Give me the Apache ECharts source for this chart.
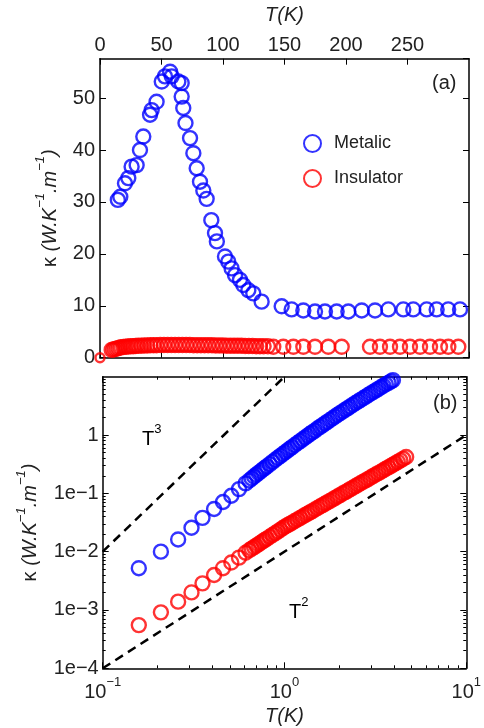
<!DOCTYPE html>
<html>
<head>
<meta charset="utf-8">
<script src="https://cdn.jsdelivr.net/npm/echarts@6/dist/echarts.min.js"></script>
<style>
html, body { margin: 0; padding: 0; background: #fff; }
#chart { width: 484px; height: 728px; }
</style>
</head>
<body>
<div id="chart"></div>
<script>
// (a) linear panel: kappa vs T
var metalT = [14.5, 16.5, 20.3, 23.0, 25.7, 29.8, 32.5, 35.2, 40.7, 42.0, 46.0, 50.2, 52.8, 57.0, 58.3,
  63.7, 66.4, 66.4, 67.7, 69.5, 73.2, 75.9, 78.6, 81.3, 84.0, 86.7, 90.5, 93.5, 95.0, 101.6, 104.3,
  107.0, 109.8, 113.8, 116.5, 120.6, 124.6, 131.4, 147.7, 155.8, 165.3, 174.8, 182.9, 192.4, 201.9,
  212.8, 223.6, 234.4, 246.6, 254.7, 265.6, 273.7, 283.1, 292.7];
var metalK = [30.4, 31.0, 33.6, 34.6, 36.8, 37.1, 40.0, 42.6, 46.8, 47.7, 49.3, 53.2, 54.2, 55.1, 54.2,
  53.2, 52.9, 50.3, 48.1, 45.2, 42.3, 39.4, 36.5, 33.9, 32.2, 30.6, 26.5, 24.0, 22.4, 19.5, 18.5,
  17.2, 15.9, 15.0, 14.0, 13.0, 12.4, 10.8, 9.9, 9.3, 9.1, 8.9, 8.9, 8.9, 8.9,
  9.1, 9.1, 9.3, 9.3, 9.3, 9.3, 9.3, 9.3, 9.3];
var insulT = [0, 9.5, 11, 12.5, 14, 15.5, 17, 19, 21, 23, 25, 27, 29, 31, 33.5, 36, 38.5, 41, 43.5, 46,
  49, 52, 55, 58, 61, 64, 67, 70, 73, 76, 79, 82, 85, 88, 91, 94, 97, 100, 103, 106, 109, 112, 115,
  118, 121, 124, 127, 130, 133, 136.5, 140.9, 149, 157.2, 165.3, 174.8, 185.6, 196.5, 219.5, 227.6,
  235.8, 243.9, 252, 260.2, 268.3, 276.4, 283.2, 291.3];
var insulK = [0, 1.5, 1.6, 1.7, 1.8, 1.9, 2.0, 2.05, 2.1, 2.15, 2.2, 2.2, 2.25, 2.3, 2.3, 2.35, 2.35, 2.4, 2.4, 2.4,
  2.45, 2.45, 2.45, 2.45, 2.45, 2.45, 2.45, 2.45, 2.45, 2.4, 2.4, 2.4, 2.4, 2.4, 2.4, 2.35, 2.35, 2.35, 2.3, 2.3, 2.3, 2.3, 2.3,
  2.25, 2.25, 2.25, 2.2, 2.2, 2.2, 2.2, 2.1, 2.1, 2.1, 2.1, 2.1, 2.1, 2.1, 2.1, 2.1,
  2.1, 2.1, 2.1, 2.1, 2.1, 2.1, 2.1, 2.1];

// (b) log-log panel, low temperature
var lowMetalT = [0.158, 0.209, 0.26, 0.308, 0.354, 0.41, 0.459, 0.51, 0.562, 0.611,
  0.64, 0.66, 0.68, 0.70, 0.72, 0.74, 0.76, 0.78, 0.80, 0.83, 0.86, 0.89, 0.92, 0.95, 0.98,
  1.01, 1.04, 1.07, 1.10, 1.14, 1.18, 1.22, 1.26, 1.30, 1.34, 1.38, 1.42, 1.47, 1.52, 1.57,
  1.62, 1.67, 1.72, 1.78, 1.84, 1.90, 1.96, 2.02, 2.09, 2.16, 2.23, 2.30, 2.38, 2.46, 2.54,
  2.62, 2.71, 2.80, 2.89, 2.98, 3.08, 3.18, 3.28, 3.39, 3.50, 3.61, 3.73, 3.85, 3.95];
var lowMetalK = [0.0052, 0.0100, 0.0162, 0.0257, 0.038, 0.054, 0.071, 0.091, 0.118, 0.148,
  0.166, 0.180, 0.194, 0.209, 0.224, 0.239, 0.256, 0.272, 0.290, 0.317, 0.346, 0.376, 0.407, 0.439, 0.472,
  0.507, 0.543, 0.581, 0.619, 0.673, 0.728, 0.785, 0.846, 0.907, 0.971, 1.04, 1.11, 1.19, 1.29, 1.38,
  1.48, 1.58, 1.68, 1.81, 1.94, 2.08, 2.22, 2.36, 2.53, 2.71, 2.89, 3.08, 3.30, 3.53, 3.76,
  4.00, 4.28, 4.56, 4.85, 5.14, 5.48, 5.82, 6.18, 6.58, 6.98, 7.40, 7.85, 8.32, 8.73];
var lowInsulT = [0.158, 0.209, 0.26, 0.308, 0.354, 0.41, 0.459, 0.51, 0.562, 0.611,
  0.64, 0.66, 0.68, 0.70, 0.72, 0.74, 0.76, 0.78, 0.80, 0.83, 0.86, 0.89, 0.92, 0.95, 0.98,
  1.01, 1.04, 1.07, 1.10, 1.14, 1.18, 1.22, 1.26, 1.30, 1.34, 1.38, 1.42, 1.47, 1.52, 1.57,
  1.62, 1.67, 1.72, 1.78, 1.84, 1.90, 1.96, 2.02, 2.09, 2.16, 2.23, 2.30, 2.38, 2.46, 2.54,
  2.62, 2.71, 2.80, 2.89, 2.98, 3.08, 3.18, 3.28, 3.39, 3.50, 3.61, 3.73, 3.85, 3.95,
  4.07, 4.20, 4.34, 4.50, 4.67];
var lowInsulK = [0.00055, 0.00091, 0.00139, 0.0020, 0.00286, 0.00398, 0.0052, 0.0065, 0.0079, 0.0096,
  0.01055, 0.01127, 0.01197, 0.0127, 0.01346, 0.01425, 0.01504, 0.01588, 0.0167, 0.018, 0.0194, 0.0208, 0.0223, 0.0238, 0.0254,
  0.027, 0.0284, 0.0299, 0.0314, 0.0335, 0.0356, 0.0378, 0.0401, 0.0424, 0.0448, 0.0471, 0.0496, 0.0527, 0.056, 0.0594,
  0.0628, 0.0664, 0.07, 0.0743, 0.0789, 0.0836, 0.0883, 0.0933, 0.0991, 0.105, 0.111, 0.118, 0.125, 0.133, 0.141,
  0.149, 0.158, 0.167, 0.177, 0.187, 0.199, 0.21, 0.222, 0.235, 0.249, 0.264, 0.279, 0.296, 0.31,
  0.327, 0.346, 0.367, 0.391, 0.42];

// guide lines T^3 and T^2
var t3T = [0.1, 1];
var t3K = [0.01, 10];
var t2T = [0.1, 10];
var t2K = [0.0001, 1];

// minor tick positions for the log axes
var minorSteps = [2, 3, 4, 5, 6, 7, 8, 9];
var xDecades = [0.1, 1];
var yDecades = [0.0001, 0.001, 0.01, 0.1, 1];

function minors(decades) {
  var out = [];
  decades.forEach(function (d) {
    minorSteps.forEach(function (m) { out.push(+(d * m).toPrecision(3)); });
  });
  return out;
}
function zip(a, b) {
  return a.map(function (v, i) { return [v, b[i]]; });
}

var FONT = 'Liberation Sans';
var TXT = '#222';
var BLUE = '#0000ff';
var RED = '#ff0000';

var axisLine = { show: true, onZero: false, lineStyle: { color: '#000', width: 1.5 } };
var majorTick = { show: true, inside: true, length: 6, lineStyle: { color: '#000', width: 1 } };
var minorTickStyle = { show: true, inside: true, length: 3, lineStyle: { color: '#000', width: 1 } };

var supRich = {
  b: { fontSize: 20, fontFamily: FONT, color: TXT, lineHeight: 26, verticalAlign: 'bottom' },
  s: { fontSize: 13, fontFamily: FONT, color: TXT, lineHeight: 13, verticalAlign: 'top' }
};
var nameRich = {
  k: { fontSize: 20, fontFamily: FONT, color: TXT, lineHeight: 26, verticalAlign: 'bottom' },
  i: { fontSize: 20, fontFamily: FONT, fontStyle: 'italic', color: TXT, lineHeight: 26, verticalAlign: 'bottom' },
  s: { fontSize: 13, fontFamily: FONT, fontStyle: 'italic', color: TXT, lineHeight: 13, verticalAlign: 'top' }
};
var kappaName = '{k|κ }{i|(W.K}{s|−1}{i|.m}{s|−1}{i|)}';

function logXLabel(v) {
  var e = Math.round(Math.log10(v));
  return '{b|10}{s|' + (e < 0 ? '−' : '') + Math.abs(e) + '}';
}
function logYLabel(v) {
  var e = Math.round(Math.log10(v));
  if (e === 0) return '1';
  if (e > 0) return '';
  return '1e−' + (-e);
}

var circleSize = 14;
var circleStroke = 2.4;

var chart = echarts.init(document.getElementById('chart'));

var option = {
  animation: false,
  backgroundColor: '#fff',
  textStyle: { fontFamily: FONT },
  legend: {
    data: ['Metalic', 'Insulator'],
    orient: 'vertical',
    left: 298,
    top: 129,
    itemWidth: 17,
    itemHeight: 17,
    itemGap: 16,
    icon: 'circle',
    selectedMode: false,
    textStyle: { fontSize: 18, fontFamily: FONT, color: TXT, padding: [0, 0, 0, 8] }
  },
  grid: [
    { left: 100, top: 58.7, width: 369, height: 299, containLabel: false },
    { left: 102.7, top: 376.7, width: 366.3, height: 291.6, containLabel: false }
  ],
  xAxis: [
    {
      gridIndex: 0, type: 'value', position: 'top', min: 0, max: 300, interval: 50,
      axisLine: axisLine, axisTick: majorTick, splitLine: { show: false },
      axisLabel: { fontSize: 20, color: TXT, fontFamily: FONT, margin: 3, showMaxLabel: false },
      name: 'T(K)', nameLocation: 'middle', nameGap: 33,
      nameTextStyle: { fontSize: 20, fontStyle: 'italic', color: TXT, fontFamily: FONT }
    },
    {
      gridIndex: 0, type: 'value', position: 'bottom', min: 0, max: 300, interval: 50,
      axisLine: axisLine, axisTick: majorTick, splitLine: { show: false },
      axisLabel: { show: false }
    },
    {
      gridIndex: 1, type: 'log', logBase: 10, position: 'bottom', min: 0.1, max: 10,
      axisLine: axisLine, axisTick: majorTick, splitLine: { show: false },
      axisLabel: { formatter: logXLabel, rich: supRich, margin: 8 },
      name: 'T(K)', nameLocation: 'middle', nameGap: 38,
      nameTextStyle: { fontSize: 20, fontStyle: 'italic', color: TXT, fontFamily: FONT }
    },
    {
      gridIndex: 1, type: 'log', logBase: 10, position: 'top', min: 0.1, max: 10,
      axisLine: axisLine, axisTick: majorTick, splitLine: { show: false },
      axisLabel: { show: false }
    },
    {
      gridIndex: 1, type: 'log', logBase: 10, position: 'bottom', min: 0.1, max: 10,
      axisLine: { show: false },
      axisTick: Object.assign({ customValues: minors(xDecades) }, minorTickStyle),
      splitLine: { show: false }, axisLabel: { show: false }
    },
    {
      gridIndex: 1, type: 'log', logBase: 10, position: 'top', min: 0.1, max: 10,
      axisLine: { show: false },
      axisTick: Object.assign({ customValues: minors(xDecades) }, minorTickStyle),
      splitLine: { show: false }, axisLabel: { show: false }
    }
  ],
  yAxis: [
    {
      gridIndex: 0, type: 'value', position: 'left', min: 0, max: 57.6, interval: 10,
      axisLine: axisLine, axisTick: majorTick, splitLine: { show: false },
      axisLabel: { fontSize: 20, color: TXT, fontFamily: FONT, margin: 5, showMaxLabel: false },
      name: kappaName, nameLocation: 'middle', nameGap: 40, nameRotate: 90,
      nameTextStyle: { rich: nameRich }
    },
    {
      gridIndex: 0, type: 'value', position: 'right', min: 0, max: 57.6, interval: 10,
      axisLine: axisLine, axisTick: majorTick, splitLine: { show: false },
      axisLabel: { show: false }
    },
    {
      gridIndex: 1, type: 'log', logBase: 10, position: 'left', min: 0.0001, max: 10,
      axisLine: axisLine, axisTick: majorTick, splitLine: { show: false },
      axisLabel: { fontSize: 20, color: TXT, fontFamily: FONT, margin: 4, formatter: logYLabel, showMaxLabel: false },
      name: kappaName, nameLocation: 'middle', nameGap: 62, nameRotate: 90,
      nameTextStyle: { rich: nameRich }
    },
    {
      gridIndex: 1, type: 'log', logBase: 10, position: 'right', min: 0.0001, max: 10,
      axisLine: axisLine, axisTick: majorTick, splitLine: { show: false },
      axisLabel: { show: false }
    },
    {
      gridIndex: 1, type: 'log', logBase: 10, position: 'left', min: 0.0001, max: 10,
      axisLine: { show: false },
      axisTick: Object.assign({ customValues: minors(yDecades) }, minorTickStyle),
      splitLine: { show: false }, axisLabel: { show: false }
    },
    {
      gridIndex: 1, type: 'log', logBase: 10, position: 'right', min: 0.0001, max: 10,
      axisLine: { show: false },
      axisTick: Object.assign({ customValues: minors(yDecades) }, minorTickStyle),
      splitLine: { show: false }, axisLabel: { show: false }
    }
  ],
  series: [
    {
      name: 'Metalic', type: 'scatter', xAxisIndex: 0, yAxisIndex: 0,
      data: zip(metalT, metalK), symbol: 'circle', symbolSize: circleSize,
      itemStyle: { color: 'rgba(0,0,0,0)', borderColor: BLUE, borderWidth: circleStroke }
    },
    {
      name: 'Insulator', type: 'scatter', xAxisIndex: 0, yAxisIndex: 0, clip: false,
      data: zip(insulT, insulK), symbol: 'circle',
      symbolSize: function (v) { return v[0] === 0 ? 9 : circleSize; },
      itemStyle: { color: 'rgba(0,0,0,0)', borderColor: RED, borderWidth: circleStroke }
    },
    {
      name: 'Metalic', type: 'scatter', xAxisIndex: 2, yAxisIndex: 2, clip: false,
      data: zip(lowMetalT, lowMetalK), symbol: 'circle', symbolSize: circleSize,
      itemStyle: { color: 'rgba(0,0,0,0)', borderColor: BLUE, borderWidth: circleStroke }
    },
    {
      name: 'Insulator', type: 'scatter', xAxisIndex: 2, yAxisIndex: 2,
      data: zip(lowInsulT, lowInsulK), symbol: 'circle', symbolSize: circleSize,
      itemStyle: { color: 'rgba(0,0,0,0)', borderColor: RED, borderWidth: circleStroke }
    },
    {
      name: 'T3', type: 'line', xAxisIndex: 2, yAxisIndex: 2, symbol: 'none',
      data: zip(t3T, t3K),
      lineStyle: { color: '#000', width: 2.5, type: [9, 6] }
    },
    {
      name: 'T2', type: 'line', xAxisIndex: 2, yAxisIndex: 2, symbol: 'none',
      data: zip(t2T, t2K),
      lineStyle: { color: '#000', width: 2.5, type: [9, 6] }
    }
  ],
  graphic: [
    { type: 'text', left: 432, top: 73, style: { text: '(a)', fontSize: 20, fontFamily: FONT, fill: TXT } },
    { type: 'text', left: 433, top: 393, style: { text: '(b)', fontSize: 20, fontFamily: FONT, fill: TXT } },
    { type: 'text', left: 142, top: 423, style: { text: '{b|T}{s|3}', rich: supRich } },
    { type: 'text', left: 289, top: 596, style: { text: '{b|T}{s|2}', rich: supRich } }
  ]
};

chart.setOption(option);
</script>
</body>
</html>
